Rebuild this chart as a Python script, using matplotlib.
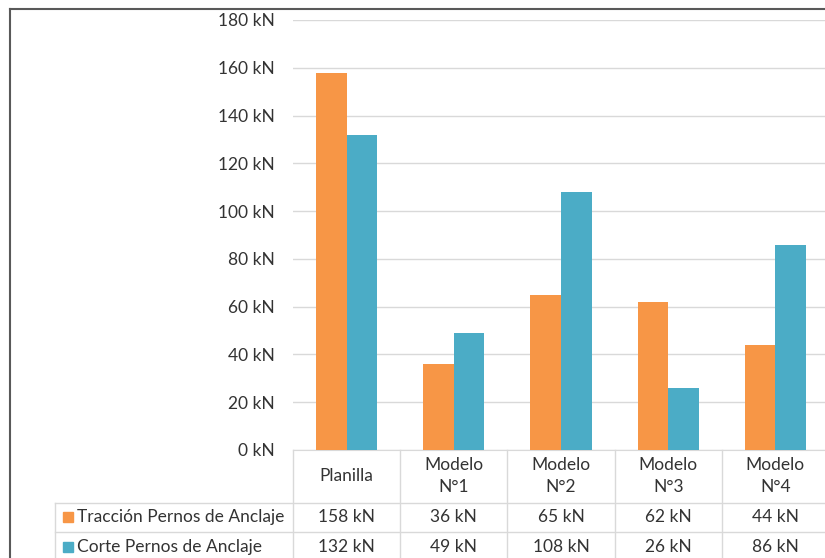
import matplotlib
matplotlib.use("Agg")
import matplotlib.pyplot as plt
import numpy as np
from matplotlib.lines import Line2D
from matplotlib.patches import Rectangle

# ── data ────────────────────────────────────────────────────────────────
categories = ["Planilla", "Modelo\nN°1", "Modelo\nN°2", "Modelo\nN°3", "Modelo\nN°4"]
series_names = ["Tracción Pernos de Anclaje", "Corte Pernos de Anclaje"]
traccion = [158, 36, 65, 62, 44]
corte = [132, 49, 108, 26, 86]
y_ticks = [0, 20, 40, 60, 80, 100, 120, 140, 160, 180]

colors = ["#F79646", "#4BACC6"]
text_col = "#333333"
grid_col = "#D9D9D9"
fs = 12.5

plt.rcParams["font.family"] = ["Lato", "DejaVu Sans"]

W, H = 825, 558
fig = plt.figure(figsize=(W / 100, H / 100), dpi=100)

# plot area in pixels: x 293..829, y 20..450
px_l, px_r, px_t, px_b = 293, 829, 20, 450
ax = fig.add_axes([px_l / W, 1 - px_b / H, (px_r - px_l) / W, (px_b - px_t) / H])

x = np.arange(len(categories))
bw = 0.285
ax.bar(x - bw / 2, traccion, bw, color=colors[0], zorder=3)
ax.bar(x + bw / 2, corte, bw, color=colors[1], zorder=3)

ax.set_xlim(-0.5, len(categories) - 0.5)
ax.set_ylim(0, 180)
ax.set_yticks(y_ticks)
ax.set_yticklabels([f"{v} kN" for v in y_ticks], fontsize=fs, color=text_col)
ax.tick_params(axis="y", length=0, pad=13)
ax.set_xticks([])
ax.grid(axis="y", color=grid_col, linewidth=1, zorder=0)
for s in ["top", "right", "left"]:
    ax.spines[s].set_visible(False)
ax.spines["bottom"].set_color(grid_col)

# ── data table below the axis ──────────────────────────────────────────
h_ax = px_b - px_t
def ay(py):
    return (px_b - py) / h_ax

row_lines = [ay(503), ay(532), ay(561)]
left_ax = (55 - px_l) / (px_r - px_l)
trans_x = ax.get_xaxis_transform()
lkw = dict(color=grid_col, linewidth=1, clip_on=False)

# horizontal lines
for y in row_lines:
    ax.plot([left_ax, 1.0], [y, y], transform=ax.transAxes, **lkw)
# vertical lines
for xv in np.arange(-0.5, len(categories) + 0.5, 1.0):
    ax.plot([xv, xv], [0, row_lines[-1]], transform=trans_x, **lkw)
ax.plot([left_ax, left_ax], [row_lines[0], row_lines[-1]], transform=ax.transAxes, **lkw)

# header labels
for xi, lab in zip(x, categories):
    ax.text(xi, ay(476), lab, transform=trans_x, ha="center", va="center",
            fontsize=fs, color=text_col, linespacing=1.45)

# value rows
for vals, py in [(traccion, 517), (corte, 547)]:
    for xi, v in zip(x, vals):
        ax.text(xi, ay(py), f"{v} kN", transform=trans_x, ha="center", va="center",
                fontsize=fs, color=text_col)

# series names with colour keys
for name, col, py in zip(series_names, colors, [517, 547]):
    kx = (63 - px_l) / (px_r - px_l)
    kw = 10 / (px_r - px_l)
    kh = 10 / h_ax
    ax.add_patch(Rectangle((kx, ay(py) - kh / 2), kw, kh, transform=ax.transAxes,
                           color=col, clip_on=False))
    ax.text((77 - px_l) / (px_r - px_l), ay(py), name, transform=ax.transAxes,
            ha="left", va="center", fontsize=fs, color=text_col)

# chart border (left and top edges visible)
fig.add_artist(Line2D([9.5 / W, 9.5 / W], [0, 1 - 8.5 / H], transform=fig.transFigure,
                      color="#595959", linewidth=1.5))
fig.add_artist(Line2D([9.5 / W, 1], [1 - 8.5 / H, 1 - 8.5 / H], transform=fig.transFigure,
                      color="#595959", linewidth=1.5))

fig.savefig("out.png", dpi=100)
